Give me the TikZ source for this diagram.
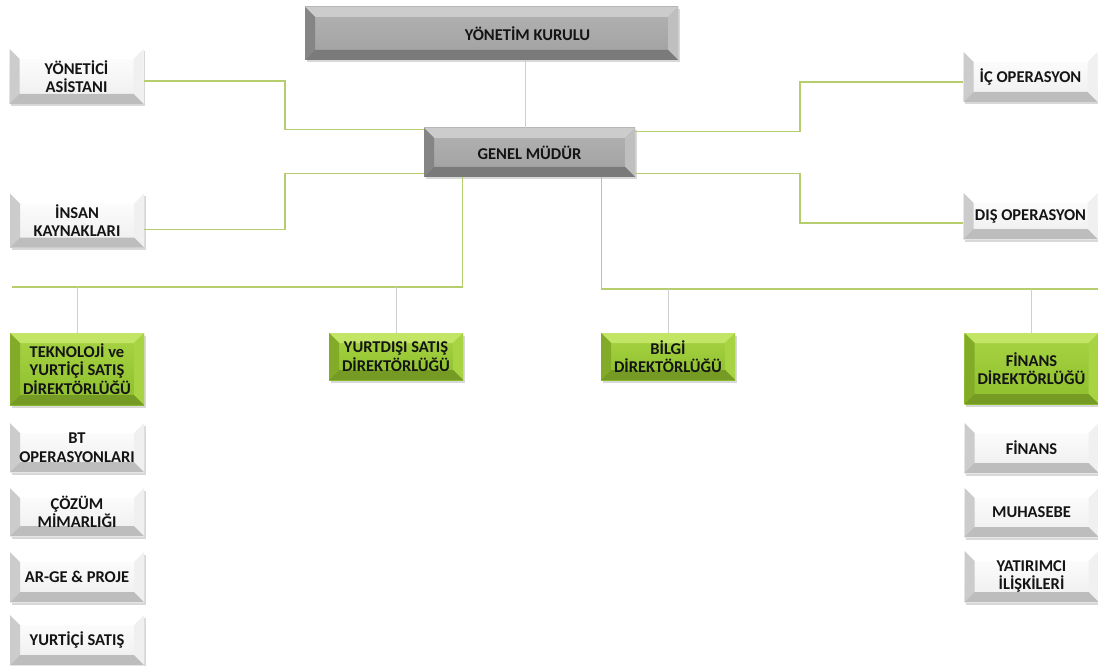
\documentclass[tikz,border=0pt]{standalone}
\usepackage{fontspec}
\setmainfont{Carlito}
\usetikzlibrary{shadows}

\definecolor{leaftop}{HTML}{A8D443}
\definecolor{leafbot}{HTML}{8DBE2C}
\definecolor{leaflite}{HTML}{C2E566}
\definecolor{leafdark}{HTML}{82AC28}
\definecolor{linegreen}{HTML}{B5CD6C}
\definecolor{linegrey}{HTML}{CFCFCF}

% bevel faces: top, left, right, bottom
\newcommand\bevelfaces[4]{%
  \coordinate (bNW) at (path picture bounding box.north west);
  \coordinate (bNE) at (path picture bounding box.north east);
  \coordinate (bSW) at (path picture bounding box.south west);
  \coordinate (bSE) at (path picture bounding box.south east);
  \fill[#1] (bNW) -- (bNE) -- ([shift={(-10pt,-10pt)}]bNE) -- ([shift={(10pt,-10pt)}]bNW) -- cycle;
  \fill[#2] (bNW) -- (bSW) -- ([shift={(10pt,10pt)}]bSW) -- ([shift={(10pt,-10pt)}]bNW) -- cycle;
  \fill[#3] (bNE) -- (bSE) -- ([shift={(-10pt,10pt)}]bSE) -- ([shift={(-10pt,-10pt)}]bNE) -- cycle;
  \fill[#4] (bSW) -- (bSE) -- ([shift={(-10pt,10pt)}]bSE) -- ([shift={(10pt,10pt)}]bSW) -- cycle;
}

\begin{document}
\begin{tikzpicture}[x=1pt, y=-1pt,
    box/.style = {minimum width=134pt, minimum height=50pt, align=center, inner sep=0pt,
      font=\bfseries\fontsize{16.5}{18.5}\selectfont, text=black!92,
      drop shadow={opacity=0.3, shadow xshift=1.5pt, shadow yshift=-2.5pt}},
    whitebox/.style = {box, top color=white, bottom color=black!7,
      path picture={\bevelfaces{white}{black!20}{black!6}{black!26}}},
    greybox/.style = {box, top color=black!30, bottom color=black!37,
      path picture={\bevelfaces{black!20}{black!48}{black!25}{black!52}}},
    greenbox/.style = {box, top color=leaftop, bottom color=leafbot,
      path picture={\bevelfaces{leaflite}{leafdark}{leaftop}{leafdark!90!black}}},
    gline/.style = {draw=linegreen, line width=1.3pt},
    lline/.style = {draw=linegrey, line width=1pt}]
  \useasboundingbox (0,0) rectangle (1098,666);
  \fill[white] (0,0) rectangle (1098,666);

  % top of the chart
  \node[greybox, minimum width=373pt, minimum height=53pt] (kurul) at (491.5,33.5) {\hspace*{72pt}YÖNETİM KURULU};
  \node[greybox, minimum width=211pt, minimum height=49pt] (gm) at (529.5,152.5) {GENEL MÜDÜR};
  \node[whitebox, minimum height=55pt] (asistan) at (76.5,76.5) {YÖNETİCİ\\ASİSTANI};
  \node[whitebox, minimum height=54pt] (ik) at (77,220.5) {İNSAN\\KAYNAKLARI};
  \node[whitebox, minimum height=50pt] (icop) at (1030.5,77) {İÇ OPERASYON};
  \node[whitebox, minimum height=46pt] (disop) at (1030.5,216) {DIŞ OPERASYON};

  % directorates
  \node[greenbox, minimum height=72pt] (tekno) at (77,369) {TEKNOLOJİ ve\\YURTİÇİ SATIŞ\\DİREKTÖRLÜĞÜ};
  \node[greenbox, minimum height=47pt] (yurtdisi) at (396,356.5) {YURTDIŞI SATIŞ\\DİREKTÖRLÜĞÜ};
  \node[greenbox, minimum height=47pt] (bilgi) at (668,356.5) {BİLGİ\\DİREKTÖRLÜĞÜ};
  \node[greenbox, minimum height=71pt] (finansdir) at (1031.5,368.5) {FİNANS\\DİREKTÖRLÜĞÜ};

  % departments
  \node[whitebox, minimum height=49pt] (bt) at (77,447.5) {BT\\OPERASYONLARI};
  \node[whitebox, minimum height=48pt] (cozum) at (77,512) {ÇÖZÜM\\MİMARLIĞI};
  \node[whitebox, minimum height=50pt] (arge) at (77,577) {AR-GE \& PROJE};
  \node[whitebox, minimum height=50pt] (yurtici) at (77,640) {YURTİÇİ SATIŞ};
  \node[whitebox, minimum height=50pt] (finans) at (1031.5,448) {FİNANS};
  \node[whitebox, minimum height=49pt] (muhasebe) at (1031.5,512.5) {MUHASEBE};
  \node[whitebox, minimum height=51pt] (yatirimci) at (1031.5,576.5) {YATIRIMCI\\İLİŞKİLERİ};

  \coordinate (elbowL) at (285,0);
  \coordinate (elbowR) at (800,0);
  \coordinate (busL) at (12,287);
  \coordinate (busR) at (1098,289);

  % connectors
  \draw[lline] ([xshift=-4pt]gm.north) -- ([xshift=-4pt]gm.north |- kurul.south);
  \draw[gline] ([yshift=-4.5pt]asistan.east) -| ([yshift=-2pt]gm.north west -| elbowL) -- ([yshift=-2pt]gm.north west);
  \draw[gline] ([yshift=-9pt]ik.east) -| ([yshift=4pt]gm.south west -| elbowL) -- ([yshift=4pt]gm.south west);
  \draw[gline] ([yshift=-4pt]gm.north east) -| ([yshift=-5pt]icop.west -| elbowR) -- ([yshift=-5pt]icop.west);
  \draw[gline] ([yshift=4pt]gm.south east) -| ([yshift=-7pt]disop.west -| elbowR) -- ([yshift=-7pt]disop.west);
  \draw[gline] ([xshift=39pt]gm.south west) |- (busL);
  \draw[gline] ([xshift=-34pt]gm.south east) |- (busR);
  \draw[lline] (tekno.north) -- (tekno.north |- busL);
  \draw[lline] (yurtdisi.north) -- (yurtdisi.north |- busL);
  \draw[lline] (bilgi.north) -- (bilgi.north |- busR);
  \draw[lline] (finansdir.north) -- (finansdir.north |- busR);
\end{tikzpicture}
\end{document}
